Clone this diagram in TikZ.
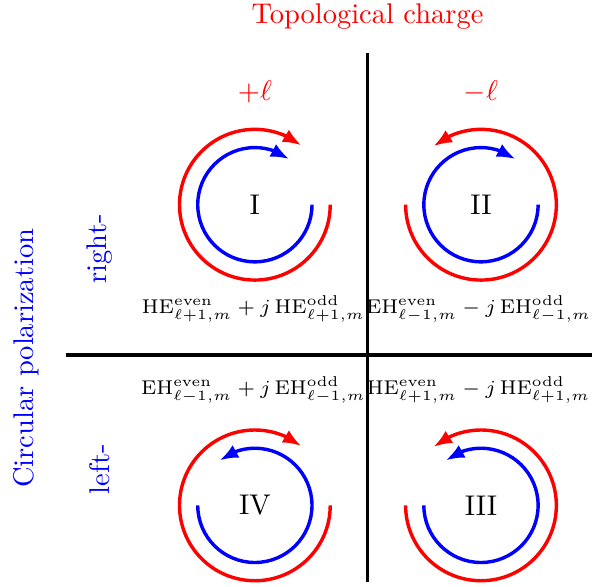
\documentclass[tikz,border=0pt]{standalone}
\usetikzlibrary{arrows.meta, bending}
\tikzset{
    axis/.style={very thick},
    outer/.style={red, very thick, -{Latex[length=6.5pt, width=5pt]}},
    inner/.style={blue, very thick, -{Latex[length=6.5pt, width=5pt]}},
    mode/.style={font=\scriptsize},
}
\begin{document}
\begin{tikzpicture}
    \useasboundingbox (-4.535, -2.851) rectangle (2.770, 4.381);
    % axes
    \coordinate (top) at (0, 3.73);
    \coordinate (bottom) at (0, -2.80);
    \coordinate (left) at (-3.72, 0);
    \coordinate (right) at (2.77, 0);
    \draw[axis] (top) -- (bottom);
    \draw[axis] (left) -- (right);
    % quadrant centres
    \coordinate (cI) at (-1.39, 1.855);
    \coordinate (cII) at (1.40, 1.855);
    \coordinate (cIII) at (1.40, -1.855);
    \coordinate (cIV) at (-1.39, -1.855);
    % circulating arrows
    \draw[outer] (cI) ++(0:0.93) arc[start angle=0, end angle=-308, radius=0.93];
    \draw[inner] (cI) ++(0:0.705) arc[start angle=0, end angle=-307, radius=0.705];
    \draw[outer] (cII) ++(180:0.93) arc[start angle=180, end angle=489, radius=0.93];
    \draw[inner] (cII) ++(0:0.705) arc[start angle=0, end angle=-307, radius=0.705];
    \draw[outer] (cIII) ++(180:0.93) arc[start angle=180, end angle=489, radius=0.93];
    \draw[inner] (cIII) ++(180:0.705) arc[start angle=180, end angle=488, radius=0.705];
    \draw[outer] (cIV) ++(0:0.93) arc[start angle=0, end angle=-308, radius=0.93];
    \draw[inner] (cIV) ++(180:0.705) arc[start angle=180, end angle=488, radius=0.705];
    \node (nI) at (cI) {I};
    \node (nII) at (cII) {II};
    \node (nIII) at (cIII) {III};
    \node (nIV) at (cIV) {IV};
    % labels
    \node[red] (charge) at (0, 4.18) {Topological charge};
    \node[red] (plus) at (-1.39, 3.25) {$+\ell$};
    \node[red] (minus) at (1.40, 3.25) {$-\ell$};
    \node[blue, rotate=90] (polar) at (-4.214, -0.04) {Circular polarization};
    \node[blue, rotate=90] (rightpol) at (-3.31, 1.31) {right-};
    \node[blue, rotate=90] (leftpol) at (-3.31, -1.41) {left-};
    \node[mode] (modeI) at (-1.407, 0.568) {$\mathrm{HE}^{\mathrm{even}}_{\ell+1,m}+j\,\mathrm{HE}^{\mathrm{odd}}_{\ell+1,m}$};
    \node[mode] (modeII) at (1.370, 0.568) {$\mathrm{EH}^{\mathrm{even}}_{\ell-1,m}-j\,\mathrm{EH}^{\mathrm{odd}}_{\ell-1,m}$};
    \node[mode] (modeIV) at (-1.407, -0.432) {$\mathrm{EH}^{\mathrm{even}}_{\ell-1,m}+j\,\mathrm{EH}^{\mathrm{odd}}_{\ell-1,m}$};
    \node[mode] (modeIII) at (1.370, -0.432) {$\mathrm{HE}^{\mathrm{even}}_{\ell+1,m}-j\,\mathrm{HE}^{\mathrm{odd}}_{\ell+1,m}$};
\end{tikzpicture}
\end{document}
